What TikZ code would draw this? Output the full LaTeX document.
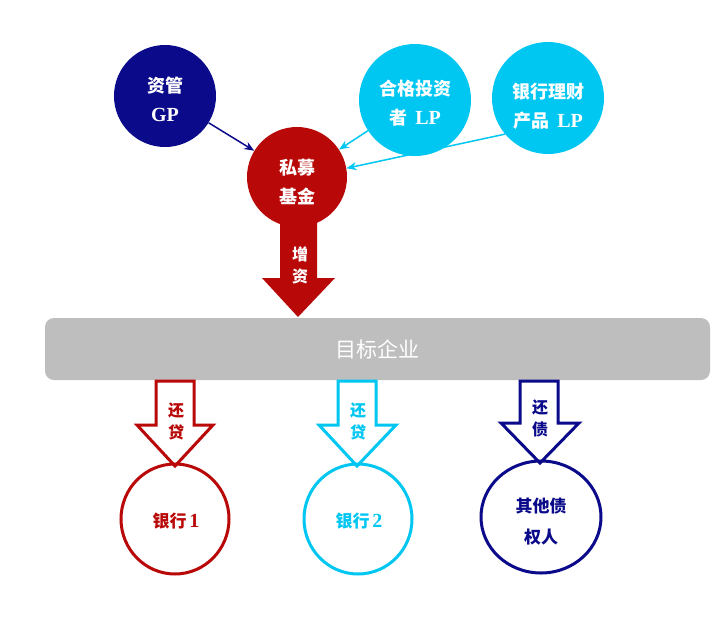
\documentclass[tikz,border=0pt]{standalone}
\usepackage{fontspec}
\usetikzlibrary{arrows.meta}
\setmainfont{Liberation Serif}
\newfontfamily\cjk{Noto Sans CJK SC}
\newcommand{\lat}[1]{{\rmfamily\bfseries\fontsize{20}{29}\selectfont #1}}
\definecolor{navyc}{HTML}{0A0A8A}
\definecolor{cyanc}{HTML}{00C6F2}
\definecolor{redc}{HTML}{B80808}
\definecolor{grayc}{HTML}{BEBEBE}
\begin{document}
\begin{tikzpicture}[x=1pt,y=-1pt,
  fillcirc/.style={circle,inner sep=0pt,minimum size=#1},
  lbl/.style={font=\cjk\bfseries\fontsize{18}{29}\selectfont,align=center,text=white},
  small/.style={font=\cjk\bfseries\fontsize{16}{22}\selectfont,align=center},
  big/.style={font=\cjk\bfseries\fontsize{17}{31}\selectfont,align=center},
  link/.style={-{Stealth[length=10pt,width=8pt]},line width=1.5pt}]
\useasboundingbox (0,0) rectangle (718,624);
\fill[white] (0,0) rectangle (718,624);
% top circles
\node[fillcirc=102pt,fill=navyc] (gp) at (165,96) {};
\node[fillcirc=112pt,fill=cyanc] (lp1) at (415,100) {};
\node[fillcirc=112pt,fill=cyanc] (lp2) at (548,98) {};
% red block arrow (behind fund circle)
\fill[redc] (280,200) -- (317,200) -- (317,278) -- (335,278) -- (298,317) -- (262,278) -- (280,278) -- cycle;
\node[fillcirc=100pt,fill=redc] (pe) at (297,177) {};
\node[lbl] at (165,99) {资管\\\lat{GP}};
\node[lbl] at (415,103) {合格投资\\者\ \ \lat{LP}};
\node[lbl] at (548,106) {银行理财\\产品\ \ \lat{LP}};
\node[lbl] at (297,182) {私募\\基金};
\node[small,text=white] (zz) at (300,265) {增\\资};
% connectors
\draw[link,navyc] (gp) -- (pe);
\draw[link,cyanc] (lp1) -- (pe);
\draw[link,cyanc] (lp2.220) -- (pe.10);
% bar
\node[fill=grayc,rounded corners=9pt,minimum width=665pt,minimum height=62pt,inner sep=0pt,
  text=white,font=\cjk\fontsize{21}{24}\selectfont] (bar) at (377.5,349) {目标企业};
% bottom outlined arrows
\draw[redc,line width=3pt,line join=miter] (156,381) -- (194,381) -- (194,425) -- (213,425) -- (175,466) -- (137,425) -- (156,425) -- cycle;
\draw[cyanc,line width=3pt,line join=miter] (338,381) -- (376,381) -- (376,425) -- (396,425) -- (357,466) -- (319,425) -- (338,425) -- cycle;
\draw[navyc,line width=3pt,line join=miter] (520,381) -- (558,381) -- (558,423) -- (579,423) -- (540,463) -- (501,423) -- (520,423) -- cycle;
\node[small,text=redc] at (176,421) {还\\贷};
\node[small,text=cyanc] at (358,421) {还\\贷};
\node[small,text=navyc] at (540,418) {还\\债};
% bottom circles
\draw[redc,line width=3pt] (175,519) ellipse (54pt and 55pt);
\node (b1) at (175,519) {};
\draw[cyanc,line width=3pt] (358,519) ellipse (54pt and 55pt);
\node (b2) at (358,519) {};
\draw[navyc,line width=3pt] (541,517) ellipse (60pt and 56pt);
\node (b3) at (541,517) {};
\node[big,text=redc] at (176,521) {银行\,\lat{1}};
\node[big,text=cyanc] at (359,521) {银行\,\lat{2}};
\node[big,text=navyc] at (541,522) {其他债\\权人};
\end{tikzpicture}
\end{document}
